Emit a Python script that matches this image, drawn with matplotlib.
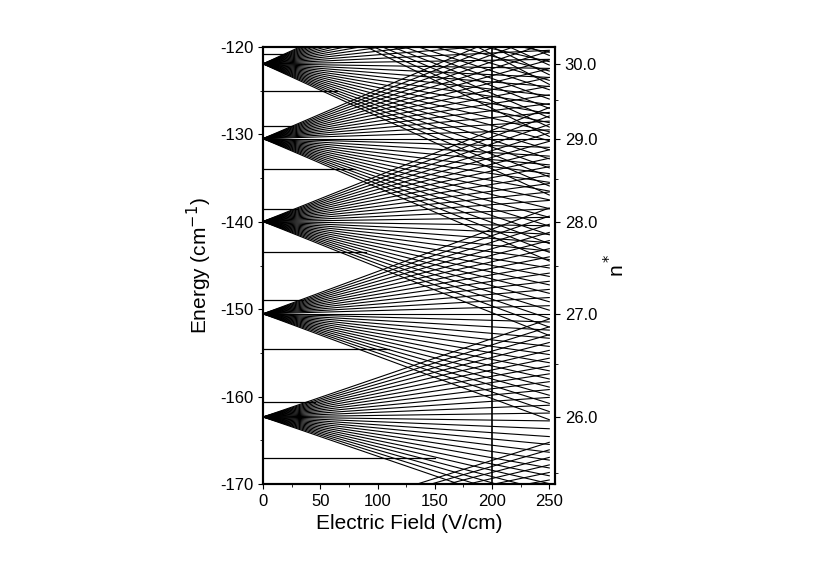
import numpy as np
import matplotlib
matplotlib.use("Agg")
import matplotlib.pyplot as plt

plt.rcParams["font.family"] = ["Liberation Sans", "DejaVu Sans"]
plt.rcParams["axes.unicode_minus"] = False

RY = 109736.6  # cm^-1
manifold_n = [25, 26, 27, 28, 29, 30, 31, 32]
# low-l (quantum-defect shifted) levels at zero field, cm^-1, with field where they merge
lowl_E = [-167.0, -160.6, -154.5, -149.0, -143.5, -138.5, -134.0, -129.0, -125.0, -120.8]
lowl_F = [150, 45, 110, 35, 90, 30, 80, 25, 65, 20]
field_max = 250
vline_F = 200
ytick_vals = [-170, -160, -150, -140, -130, -120]
xtick_vals = [0, 50, 100, 150, 200, 250]
nstar_ticks = [26.0, 27.0, 28.0, 29.0, 30.0]
nstar_minor = [25.5, 26.5, 27.5, 28.5, 29.5]

AU = 4.6e-5  # cm^-1 per (n k V/cm)

fig = plt.figure(figsize=(8.2, 5.81), dpi=100)
ax = fig.add_axes([263/820, 1-484/581, (555-263)/820, (484-47)/581])
F = np.array([0, field_max])
for n in manifold_n:
    E0 = -RY / n**2
    for k in range(-(n - 1), n, 2):
        s = 1.5 * n * k * AU
        ax.plot(F, E0 + s * F, color="black", lw=0.8)
for e, f in zip(lowl_E, lowl_F):
    ax.plot([0, f], [e, e], color="black", lw=0.9)
ax.axvline(vline_F, color="black", lw=1.2)

ax.set_xlim(0, field_max + 5)
ax.set_ylim(-170, -120)
ax.set_xticks(xtick_vals)
ax.set_yticks(ytick_vals)
ax.set_xticks([25, 75, 125, 175, 225], minor=True)
ax.set_yticks(np.arange(-165, -120, 10), minor=True)
ax.tick_params(labelsize=12, direction="out")
ax.set_xlabel("Electric Field (V/cm)", fontsize=15)
ax.set_ylabel("Energy (cm$^{-1}$)", fontsize=15)

ax2 = ax.twinx()
ax2.set_ylim(-170, -120)
ax2.set_yticks([-RY / n**2 for n in nstar_ticks])
ax2.set_yticklabels([f"{n:.1f}" for n in nstar_ticks])
ax2.set_yticks([-RY / n**2 for n in nstar_minor], minor=True)
ax2.tick_params(labelsize=12, direction="out")
ax2.set_ylabel("n$^*$", fontsize=15)

for a in (ax, ax2):
    for sp in a.spines.values():
        sp.set_linewidth(1.5)
fig.savefig("out.png", dpi=100)
